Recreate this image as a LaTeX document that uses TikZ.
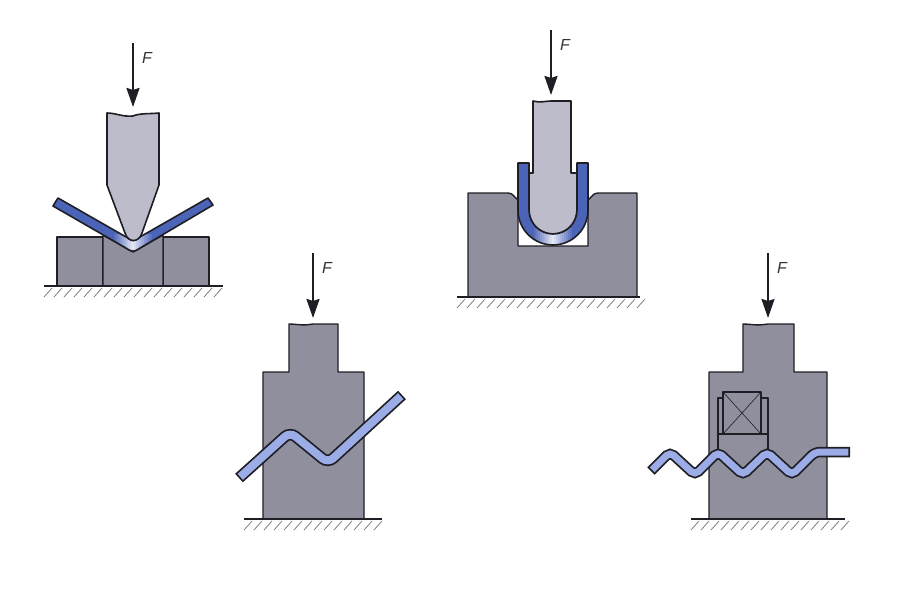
\documentclass[tikz,border=0pt]{standalone}
\usepackage{fontspec}
\setmainfont{Liberation Sans}
\definecolor{punch1}{RGB}{188, 188, 202}
\definecolor{die1}{RGB}{143, 143, 158}
\definecolor{sheetdark}{RGB}{76, 100, 184}
\definecolor{sheetlight}{RGB}{155, 172, 230}
\definecolor{edge1}{RGB}{30, 30, 36}
\usetikzlibrary{arrows.meta}
\tikzset{
  diepart/.style={draw=edge1, fill=die1, line width=1.4pt, line join=round},
  punchpart/.style={draw=edge1, fill=punch1, line width=1.6pt, line join=round},
  sheetpart/.style={draw=edge1, fill=sheetdark, line width=1.6pt, line join=round},
  sheetedge/.style={draw=edge1, line width=11.5pt, rounded corners=7pt},
  sheetcore/.style={draw=sheetlight, line width=8pt, rounded corners=7pt, shorten >=1.7pt, shorten <=1.7pt},
  forcearrow/.style={-{Stealth[length=19pt, width=13pt, inset=2pt]}, draw=edge1, line width=2.2pt},
  forcelabel/.style={font=\itshape\fontsize{16}{16}\selectfont, text=black!80, inner sep=0pt},
  groundline/.style={draw=edge1, line width=1.4pt},
  hatchline/.style={draw=black!50, line width=0.8pt}
}
\newcommand{\groundhatch}[3]{
  \draw[groundline] (#1,#3) -- (#2,#3);
  \foreach \hx in {#1,...,#2} {
    \pgfmathparse{mod(\hx-#1,10)==0 ? 1 : 0}
    \ifnum\pgfmathresult=1
      \draw[hatchline] (\hx+8,#3+2) -- ++(-8,9);
    \fi
  }
}
\newcommand{\sheetglow}[3]{
  \foreach \gs in {-10,...,10} {
    \pgfmathtruncatemacro{\gmix}{15+85*abs(\gs)/10}
    \fill[sheetdark!\gmix!white] (#1+2*\gs-1.2,#2) rectangle (#1+2*\gs+1.2,#3);
  }
}
\newcommand{\sheetVpath}{(53,206) -- (125,247.5) .. controls (133,252.5) and (133,252.5) .. (141,247.5) -- (213,205) -- (208,198) -- (139,237.5) .. controls (133,241.5) and (133,241.5) .. (127,237.5) -- (58,198) -- cycle}
\begin{document}
\begin{tikzpicture}[x=1pt, y=-1pt]
  \useasboundingbox (0,0) rectangle (900,600);

  \coordinate (arrowAtop) at (133,43);
  \coordinate (arrowAtip) at (133,107);
  \draw[forcearrow] (arrowAtop) -- (arrowAtip);
  \node[forcelabel] (forceA) at (147,58) {F};
  \draw[diepart] (57,237) -- (103,237) -- (103,286) -- (57,286) -- cycle;
  \draw[diepart] (163,237) -- (209,237) -- (209,286) -- (163,286) -- cycle;
  \draw[diepart] (103,235) -- (133,252) -- (163,235) -- (163,286) -- (103,286) -- cycle;
  \fill[sheetdark] \sheetVpath;
  \begin{scope}
    \clip \sheetVpath;
    \sheetglow{133}{234}{254}
  \end{scope}
  \draw[sheetpart, fill=none] \sheetVpath;
  \draw[punchpart] (107,113) .. controls (116,113) and (122,117) .. (133,116) .. controls (140,113) and (150,114) .. (159,113) -- (159,185) -- (142,233) .. controls (139,243) and (128,243) .. (125,233) -- (107,185) -- cycle;
  \groundhatch{44}{223}{286}

  \coordinate (arrowBtop) at (551,30);
  \coordinate (arrowBtip) at (551,95);
  \draw[forcearrow] (arrowBtop) -- (arrowBtip);
  \node[forcelabel] (forceB) at (565,45) {F};
  \draw[diepart] (468,193) -- (508,193) .. controls (513,193) and (514,197) .. (518,200) -- (518,246) -- (588,246) -- (588,200) .. controls (592,197) and (593,193) .. (598,193) -- (637,193) -- (637,297) -- (468,297) -- cycle;
  \fill[white] (519,225) rectangle (587,245);
  \draw[punchpart] (533,101) .. controls (540,103) and (546,101) .. (551,101) -- (571,101) -- (571,173) -- (577,173) -- (577,210) arc[start angle=0, end angle=180, radius=24] -- (529,173) -- (533,173) -- cycle;
  \fill[sheetdark] (518,163) -- (518,210) arc[start angle=180, end angle=0, radius=35] -- (588,163) -- (577,163) -- (577,210) arc[start angle=0, end angle=180, radius=24] -- (529,163) -- cycle;
  \begin{scope}
    \clip (518,210) arc[start angle=180, end angle=0, radius=35] -- (577,210) arc[start angle=0, end angle=180, radius=24] -- cycle;
    \sheetglow{553}{228}{247}
  \end{scope}
  \draw[sheetpart, fill=none] (518,163) -- (518,210) arc[start angle=180, end angle=0, radius=35] -- (588,163) -- (577,163) -- (577,210) arc[start angle=0, end angle=180, radius=24] -- (529,163) -- cycle;
  \groundhatch{457}{640}{297}

  \coordinate (arrowCtop) at (313,253);
  \coordinate (arrowCtip) at (313,318);
  \draw[forcearrow] (arrowCtop) -- (arrowCtip);
  \node[forcelabel] (forceC) at (327,268) {F};
  \draw[diepart] (289,324) .. controls (297,324) and (302,326) .. (313,324) -- (338,324) -- (338,372) -- (364,372) -- (364,519) -- (263,519) -- (263,372) -- (289,372) -- cycle;
  \draw[sheetedge] (239,478) -- (290,432) -- (328,463) -- (402,395);
  \draw[sheetcore] (239,478) -- (290,432) -- (328,463) -- (402,395);
  \groundhatch{244}{382}{519}

  \coordinate (arrowDtop) at (768,253);
  \coordinate (arrowDtip) at (768,318);
  \draw[forcearrow] (arrowDtop) -- (arrowDtip);
  \node[forcelabel] (forceD) at (782,268) {F};
  \draw[diepart] (743,324) .. controls (751,324) and (756,326) .. (768,324) -- (794,324) -- (794,372) -- (827,372) -- (827,519) -- (709,519) -- (709,372) -- (743,372) -- cycle;
  \draw[diepart, fill=none] (718,450) -- (718,398) -- (768,398) -- (768,450);
  \draw[diepart, fill=none, line width=1.8pt] (718,434) -- (768,434);
  \draw[diepart, line width=1.8pt] (723,392) rectangle (761,434);
  \draw[edge1, line width=0.6pt] (723,392) -- (761,434) (761,392) -- (723,434);
  \draw[sheetedge, rounded corners=5pt, line width=10.5pt] (651,471) -- (670,452) -- (695,475) -- (718,452) -- (743,475) -- (767,452) -- (792,475) -- (815,452) -- (850,452);
  \draw[sheetcore, rounded corners=5pt, line width=7pt] (651,471) -- (670,452) -- (695,475) -- (718,452) -- (743,475) -- (767,452) -- (792,475) -- (815,452) -- (850,452);
  \groundhatch{691}{845}{519}
\end{tikzpicture}
\end{document}
